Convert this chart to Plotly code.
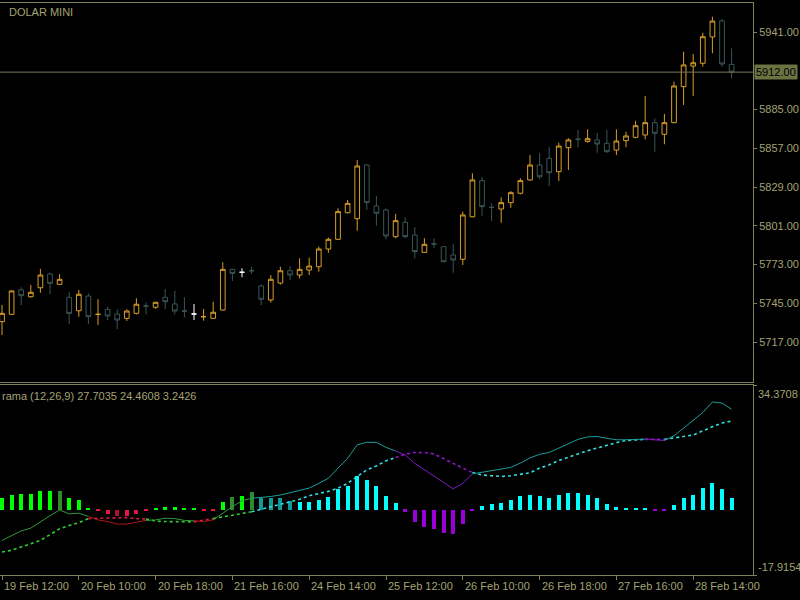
import plotly.graph_objects as go

# ---------------- data ----------------
TICK_IDX = [0, 8, 16, 24, 32, 40, 48, 56, 64, 72]
TICK_LABELS = ["19 Feb 12:00", "20 Feb 10:00", "20 Feb 18:00", "21 Feb 16:00", "24 Feb 14:00",
               "25 Feb 12:00", "26 Feb 10:00", "26 Feb 18:00", "27 Feb 16:00", "28 Feb 14:00"]
PRICE_TICKS = [5941, 5885, 5857, 5829, 5801, 5773, 5745, 5717]
LAST_PRICE = 5912.00
SYMBOL = "DOLAR MINI"
IND_LABEL = "rama (12,26,9) 27.7035 24.4608 3.2426"
LOW_TOP, LOW_BOTTOM = 34.3708, -17.9154

OPEN = [5731.7, 5737.0, 5754.6, 5749.7, 5756.2, 5766.1, 5758.7, 5749.3, 5739.6, 5750.2,
        5737.0, 5740.6, 5737.2, 5734.1, 5737.7, 5743.0, 5742.1, 5749.3, 5744.5, 5739.4,
        5737.2, 5735.3, 5734.1, 5740.1, 5769.5, 5767.4, 5768.5, 5757.5, 5747.4, 5759.6,
        5768.5, 5765.4, 5769.0, 5771.4, 5784.2, 5791.2, 5810.4, 5806.1, 5844.9, 5815.3,
        5812.4, 5793.1, 5803.5, 5794.3, 5781.8, 5787.8, 5785.9, 5779.9, 5776.8, 5807.5,
        5833.6, 5814.3, 5813.1, 5817.7, 5824.5, 5834.1, 5844.9, 5849.7, 5840.1, 5857.4,
        5863.5, 5862.0, 5863.0, 5860.6, 5855.7, 5862.5, 5864.9, 5866.6, 5875.5, 5867.1,
        5875.5, 5901.5, 5916.4, 5918.4, 5937.4, 5949.0, 5917.6]
HIGH = [5743.7, 5754.5, 5756.5, 5758.2, 5769.8, 5767.1, 5766.1, 5752.9, 5754.6, 5752.2,
        5747.9, 5742.5, 5740.6, 5740.6, 5748.6, 5745.4, 5746.0, 5755.3, 5753.9, 5749.3,
        5744.5, 5740.9, 5746.1, 5774.6, 5769.8, 5770.3, 5771.4, 5758.7, 5765.4, 5771.4,
        5771.9, 5777.5, 5777.9, 5785.9, 5792.4, 5813.6, 5819.6, 5848.5, 5845.5, 5822.5,
        5813.6, 5809.5, 5807.1, 5799.9, 5792.0, 5792.0, 5786.2, 5787.6, 5811.2, 5838.9,
        5836.4, 5817.2, 5821.6, 5826.1, 5835.3, 5852.1, 5853.4, 5857.7, 5861.0, 5864.2,
        5870.2, 5870.7, 5868.2, 5870.2, 5870.7, 5869.0, 5876.9, 5894.8, 5878.6, 5881.8,
        5905.1, 5926.8, 5925.1, 5940.5, 5952.1, 5950.2, 5929.2]
LOW = [5722.1, 5736.5, 5743.7, 5749.0, 5752.6, 5751.5, 5758.2, 5730.0, 5735.3, 5730.0,
       5729.3, 5732.9, 5726.2, 5732.2, 5737.0, 5737.0, 5740.9, 5740.9, 5737.0, 5734.8,
       5732.9, 5732.4, 5733.8, 5739.8, 5761.1, 5763.8, 5766.1, 5743.7, 5745.5, 5758.5,
       5761.8, 5763.0, 5765.4, 5767.8, 5781.5, 5790.7, 5810.0, 5797.4, 5812.4, 5801.0,
       5791.2, 5792.0, 5792.0, 5777.5, 5781.5, 5784.7, 5774.7, 5767.1, 5772.6, 5807.1,
       5808.1, 5804.4, 5803.2, 5814.0, 5823.7, 5833.6, 5834.6, 5829.7, 5833.3, 5841.3,
       5857.7, 5861.0, 5853.8, 5853.8, 5852.1, 5857.7, 5864.2, 5863.5, 5854.5, 5859.9,
       5875.0, 5888.3, 5894.8, 5916.0, 5925.6, 5915.9, 5907.5]
CLOSE = [5737.7, 5753.9, 5750.5, 5752.9, 5765.4, 5759.4, 5762.3, 5737.7, 5751.5, 5735.3,
         5737.0, 5735.8, 5732.9, 5739.4, 5744.3, 5743.0, 5745.7, 5746.1, 5739.4, 5739.4,
         5737.2, 5735.3, 5738.5, 5769.5, 5766.6, 5767.4, 5768.5, 5747.9, 5762.3, 5768.5,
         5765.4, 5769.5, 5771.9, 5784.2, 5791.2, 5811.2, 5817.2, 5844.2, 5817.7, 5810.0,
         5793.6, 5804.7, 5793.1, 5782.3, 5787.6, 5787.8, 5775.0, 5776.3, 5808.8, 5834.1,
         5814.8, 5814.3, 5817.7, 5824.9, 5833.6, 5844.9, 5836.4, 5839.3, 5858.6, 5863.0,
         5863.5, 5863.9, 5860.1, 5854.5, 5862.2, 5865.9, 5873.3, 5875.5, 5867.8, 5875.5,
         5902.0, 5917.2, 5918.8, 5937.6, 5948.9, 5917.9, 5912.0]

MACD = [-8.4, -7.1, -5.8, -5.0, -3.2, -1.6, 0.0, -1.1, -0.9, -1.8,
        -2.75, -3.2, -3.9, -3.9, -3.5, -2.9, -2.75, -2.3, -2.4, -2.9,
        -3.0, -3.2, -2.75, -0.9, 0.9, 2.5, 3.2, 3.4, 3.7, 4.1,
        4.8, 5.3, 6.0, 7.3, 8.7, 11.5, 14.2, 17.9, 18.6, 18.6,
        17.2, 16.2, 15.1, 12.8, 11.0, 9.4, 7.5, 5.8, 7.3, 9.9,
        10.3, 10.7, 11.2, 11.7, 12.9, 14.3, 15.3, 15.8, 17.0, 18.3,
        19.4, 20.1, 20.2, 19.7, 19.3, 19.3, 19.4, 19.5, 19.4, 19.1,
        20.4, 22.5, 24.6, 26.8, 29.7, 29.4, 27.7035]
SIGNAL = [-11.6, -11.1, -10.2, -9.4, -8.4, -6.8, -5.2, -4.3, -3.5, -2.4,
          -2.3, -2.1, -2.1, -2.1, -2.4, -2.5, -3.1, -3.2, -3.3, -3.4,
          -3.3, -2.9, -2.4, -2.0, -1.5, -1.0, -0.5, 0.2, 0.9, 1.4,
          2.3, 2.9, 3.9, 4.4, 5.1, 6.0, 7.3, 9.2, 11.0, 12.1,
          13.5, 14.4, 15.3, 15.8, 15.8, 15.4, 14.2, 12.8, 11.5, 10.3,
          9.6, 9.4, 9.2, 9.4, 9.8, 10.2, 11.5, 12.4, 13.6, 14.4,
          15.4, 16.3, 17.1, 17.9, 18.5, 19.1, 19.3, 19.4, 19.5, 19.4,
          19.7, 20.2, 20.6, 21.8, 22.9, 23.9, 24.4608]
HIST = [3.2, 4.1, 4.4, 4.4, 5.2, 5.2, 5.2, 3.2, 2.6, 0.6,
        -0.4, -1.1, -1.8, -1.8, -1.1, -0.4, 0.4, 0.9, 0.9, 0.6,
        0.4, -0.4, -0.4, 2.1, 3.5, 3.9, 4.8, 3.4, 3.2, 3.2,
        2.5, 2.1, 2.1, 2.75, 3.5, 5.7, 6.6, 9.2, 8.3, 6.6,
        3.7, 1.8, -0.5, -3.4, -4.6, -5.3, -6.4, -6.6, -3.9, -0.4,
        1.1, 1.65, 1.8, 2.6, 3.8, 4.1, 3.85, 3.2, 4.1, 4.6,
        4.6, 4.1, 3.2, 1.6, 0.9, 0.5, 0.4, 0.4, -0.4, -0.4,
        1.4, 3.2, 4.1, 6.0, 7.5, 5.7, 3.2426]

# ---------------- styles ----------------
N = len(CLOSE)
BG = "#000000"
FG = "#a3a374"       # text
AX = "#7f7f5c"       # frame lines
PRICE_LINE = "#76765c"
PRICE_BOX = "#6b7343"
BULL = "#d89e2a"
BEAR = "#3b5656"
WHITE = "#ffffff"
FONT = "Liberation Sans"
FS = 11

WHITE_DOJI = {20, 25}
ORANGE_DOJI = {10, 21}
DARK_BARS = {6, 12, 24, 26, 27, 28, 29, 30}

W, H = 800, 600
ML, MR, MT, MB = 0, 47, 3, 25
PLOT_W = W - ML - MR
PLOT_H = H - MT - MB


def py(ypix):
    return (H - MB - ypix) / PLOT_H


def px(xpix):
    return (xpix - ML) / PLOT_W


BAR_PX = 9.6
X0_PX = 2.0
XR = [(0 - X0_PX) / BAR_PX, (PLOT_W - X0_PX) / BAR_PX]
PX_PER_PT = 1.384
YR_MAIN = [5941 - (382 - 32) / PX_PER_PT, 5941 + (32 - 3) / PX_PER_PT]


def candle_color(i):
    if i in WHITE_DOJI:
        return WHITE
    if CLOSE[i] > OPEN[i] or i in ORANGE_DOJI:
        return BULL
    return BEAR


fig = go.Figure()

for color in (BEAR, BULL, WHITE):
    idx = [i for i in range(N) if candle_color(i) == color]
    fig.add_trace(go.Candlestick(
        x=idx,
        open=[OPEN[i] for i in idx], high=[HIGH[i] for i in idx],
        low=[LOW[i] for i in idx], close=[CLOSE[i] for i in idx],
        increasing=dict(line=dict(color=color, width=1), fillcolor=BG),
        decreasing=dict(line=dict(color=color, width=1), fillcolor=BG),
        whiskerwidth=0, xaxis="x", yaxis="y", hoverinfo="skip", showlegend=False))


# ---------------- indicator ----------------
def state(i):
    low = SIGNAL[i] < 0
    pos = HIST[i] >= 0
    return ("low" if low else "high") + ("pos" if pos else "neg")


BAR_COLORS = {
    "lowpos": ("#00ff00", "#2e8b2e"),
    "lowneg": ("#e01848", "#a8142e"),
    "highpos": ("#00ffff", "#129a9a"),
    "highneg": ("#9a00d8", "#7000a0"),
}
MACD_COLORS = {"lowpos": "#2f9a3c", "lowneg": "#b01818", "highpos": "#1c9e9a", "highneg": "#7e1cc0"}
SIG_COLORS = {"lowpos": "#32d032", "lowneg": "#e01848", "highpos": "#30e0e0", "highneg": "#9a10d8"}

bar_cols = [BAR_COLORS[state(i)][1 if i in DARK_BARS else 0] for i in range(N)]
fig.add_trace(go.Bar(x=list(range(N)), y=HIST, width=0.42, marker=dict(color=bar_cols, line=dict(width=0)),
                     xaxis="x2", yaxis="y2", hoverinfo="skip", showlegend=False))


def add_segments(vals, cmap, dash, width):
    xs, ys, cur = [], [], None
    segs = []
    for i in range(1, N):
        c = cmap[state(i)]
        if c != cur:
            if xs:
                segs.append((xs, ys, cur))
            xs, ys, cur = [i - 1], [vals[i - 1]], c
        xs.append(i)
        ys.append(vals[i])
    if xs:
        segs.append((xs, ys, cur))
    for sx, sy, c in segs:
        fig.add_trace(go.Scatter(x=sx, y=sy, mode="lines", line=dict(color=c, width=width, dash=dash),
                                 xaxis="x2", yaxis="y2", hoverinfo="skip", showlegend=False))


add_segments(SIGNAL, SIG_COLORS, "3px,3px", 1.6)
add_segments(MACD, MACD_COLORS, "solid", 1)

# ---------------- layout ----------------
axis_common = dict(showgrid=False, zeroline=False, linecolor=AX, linewidth=1, tickcolor=AX,
                   tickfont=dict(family=FONT, size=FS, color=FG), automargin=False)

annotations = [
    dict(text=SYMBOL, xref="paper", yref="paper", x=px(7), y=py(12), xanchor="left", yanchor="middle",
         showarrow=False, font=dict(family=FONT, size=FS, color=FG)),
    dict(text=IND_LABEL, xref="paper", yref="paper", x=px(0), y=py(396), xanchor="left", yanchor="middle",
         showarrow=False, font=dict(family=FONT, size=FS, color=FG)),
    dict(text="%.2f" % LAST_PRICE, xref="paper", yref="y", x=1, y=LAST_PRICE, xanchor="left", yanchor="middle",
         xshift=1, showarrow=False, bgcolor=PRICE_BOX, borderpad=1,
         font=dict(family=FONT, size=FS, color="#000000")),
    dict(text="%.4f" % LOW_TOP, xref="paper", yref="y2", x=1, y=LOW_TOP, xanchor="left", yanchor="top",
         xshift=3, yshift=-1, showarrow=False, font=dict(family=FONT, size=FS, color=FG)),
    dict(text="%.4f" % LOW_BOTTOM, xref="paper", yref="y2", x=1, y=LOW_BOTTOM, xanchor="left", yanchor="bottom",
         xshift=3, yshift=0, showarrow=False, font=dict(family=FONT, size=FS, color=FG)),
]
for xi, lab in zip(TICK_IDX, TICK_LABELS):
    annotations.append(dict(text=lab, xref="x2", yref="paper", x=xi, y=py(586), xanchor="left", yanchor="middle",
                            xshift=0, showarrow=False, font=dict(family=FONT, size=FS, color=FG)))

shapes = [
    dict(type="line", xref="paper", yref="y", x0=0, x1=1, y0=LAST_PRICE, y1=LAST_PRICE,
         line=dict(color=PRICE_LINE, width=1)),
]

fig.update_layout(
    width=W, height=H, margin=dict(l=ML, r=MR, t=MT, b=MB),
    paper_bgcolor=BG, plot_bgcolor=BG, showlegend=False, bargap=0,
    boxgap=0.3, boxgroupgap=0.3,
    xaxis=dict(domain=[0, 1], range=XR, anchor="y", showticklabels=False, ticks="", showline=True,
               mirror=True, rangeslider=dict(visible=False), **axis_common),
    yaxis=dict(domain=[py(382), 1], range=YR_MAIN, side="right", anchor="x", showline=True,
               tickvals=PRICE_TICKS, ticktext=["%.2f" % v for v in PRICE_TICKS], ticks="outside", ticklen=3,
               **axis_common),
    xaxis2=dict(domain=[0, 1], range=XR, anchor="y2", showline=True, mirror=True, tickvals=TICK_IDX,
                showticklabels=False, ticks="outside", ticklen=4, **axis_common),
    yaxis2=dict(domain=[0, py(385)], range=[LOW_BOTTOM, LOW_TOP], side="right", anchor="x2", showline=True,
                tickvals=[LOW_TOP, LOW_BOTTOM], showticklabels=False, ticks="outside", ticklen=3,
                **axis_common),
    annotations=annotations, shapes=shapes,
)

fig.write_html("out.html")
